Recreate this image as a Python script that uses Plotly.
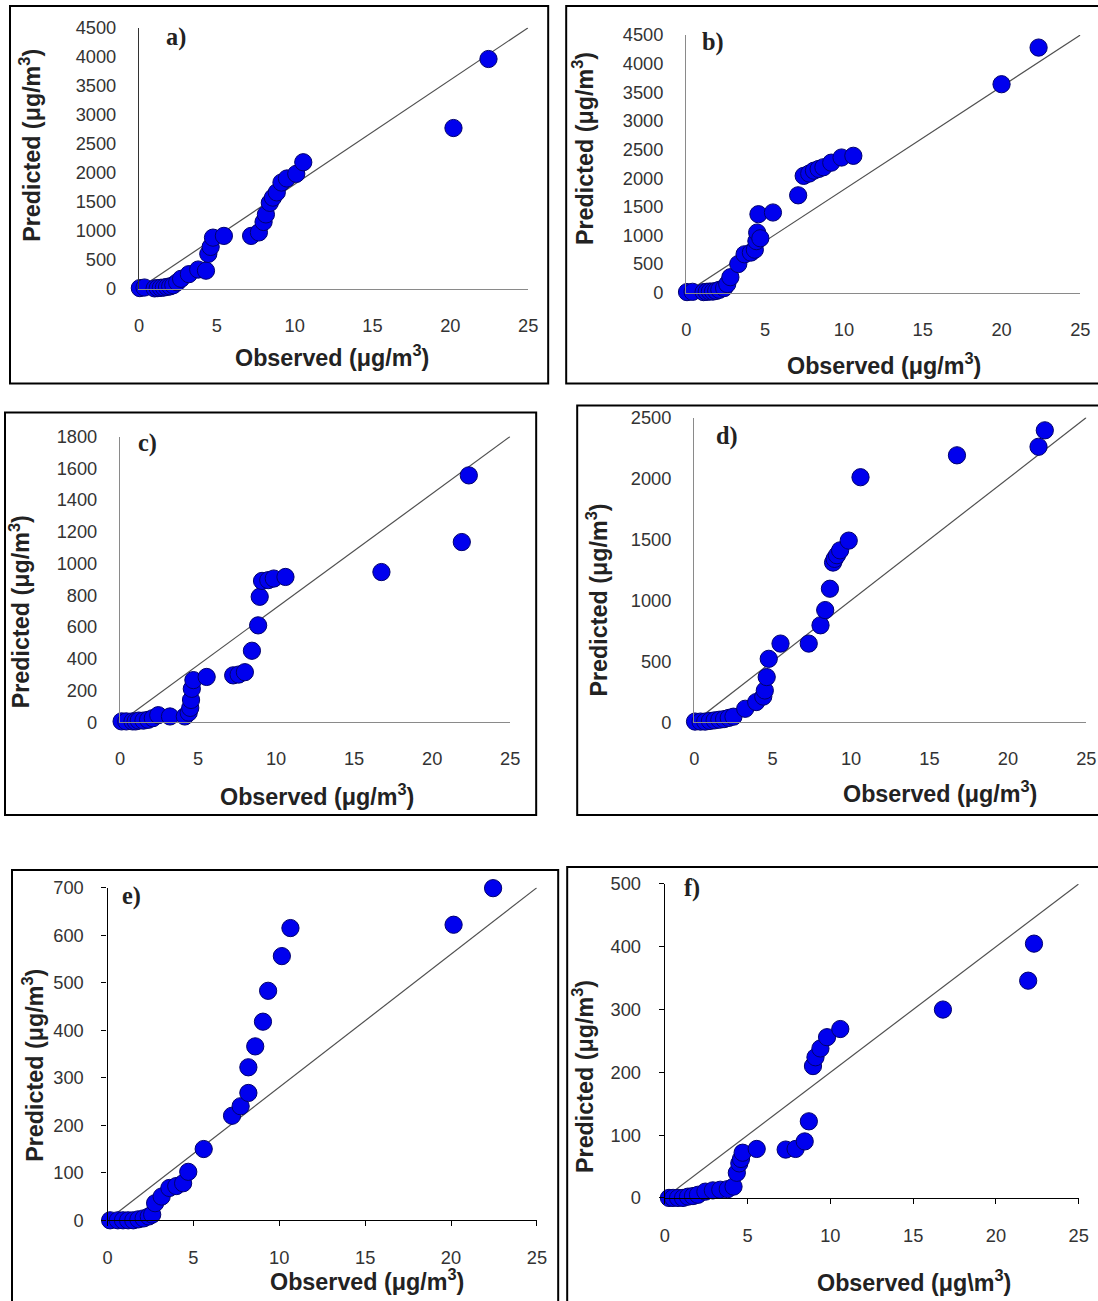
import plotly.graph_objects as go

W, H = 1098, 1301

# ---------------- data ----------------
ax = [0.05, 0.35, 1.0, 1.2, 1.4, 1.6, 1.8, 2.0, 2.2, 2.45, 2.7, 3.2, 3.8, 4.3, 4.45, 4.6, 4.75, 5.45, 7.2, 7.7, 8.0, 8.15, 8.4, 8.6, 8.85, 9.15, 9.5, 10.1, 10.55, 20.2, 22.45]
ay = [10, 20, 5, 10, 15, 20, 30, 40, 60, 110, 170, 250, 330, 310, 600, 720, 880, 910, 910, 970, 1150, 1280, 1480, 1570, 1660, 1830, 1900, 1980, 2180, 2770, 3960]

bx = [0.05, 0.4, 1.1, 1.3, 1.5, 1.7, 1.9, 2.1, 2.4, 2.6, 2.8, 3.3, 3.7, 4.1, 4.35, 4.45, 4.5, 4.58, 4.7, 5.5, 7.1, 7.45, 7.8, 8.1, 8.4, 8.7, 9.2, 9.85, 10.6, 20.0, 22.35]
by = [10, 15, 10, 15, 20, 20, 30, 50, 80, 150, 270, 500, 670, 700, 750, 900, 1050, 1370, 950, 1400, 1700, 2040, 2080, 2130, 2160, 2190, 2270, 2360, 2390, 3640, 4280]

cx = [0.1, 0.4, 0.8, 1.0, 1.2, 1.5, 1.8, 2.1, 2.45, 3.2, 4.15, 4.4, 4.5, 4.55, 4.6, 4.7, 5.55, 7.25, 7.6, 8.0, 8.45, 8.85, 8.95, 9.1, 9.5, 9.85, 10.6, 16.75, 21.9, 22.35]
cy = [5, 5, 5, 5, 10, 10, 15, 25, 44, 36, 36, 60, 90, 140, 210, 265, 285, 295, 300, 315, 450, 610, 790, 890, 895, 905, 915, 946, 1135, 1555]

dx = [0.05, 0.4, 0.7, 1.0, 1.3, 1.6, 1.9, 2.2, 2.5, 3.25, 3.95, 4.4, 4.5, 4.62, 4.75, 5.5, 7.3, 8.05, 8.35, 8.65, 8.85, 8.95, 9.1, 9.3, 9.85, 10.6, 16.75, 21.95, 22.35]
dy = [5, 5, 5, 10, 15, 20, 25, 35, 45, 110, 165, 210, 260, 370, 520, 645, 645, 795, 920, 1095, 1310, 1340, 1370, 1410, 1490, 2010, 2190, 2260, 2395]

ex = [0.15, 0.6, 0.9, 1.2, 1.5, 1.8, 2.1, 2.4, 2.6, 2.77, 3.15, 3.6, 4.0, 4.4, 4.7, 5.6, 7.25, 7.75, 8.2, 8.2, 8.6, 9.05, 9.35, 10.15, 10.65, 20.15, 22.45]
ey = [0, 0, 0, 0, 0, 2, 4, 8, 12, 36, 50, 68, 72, 78, 102, 150, 220, 240, 268, 322, 366, 418, 483, 556, 615, 622, 699]

fx = [0.25, 0.5, 0.8, 1.1, 1.4, 1.7, 2.0, 2.45, 2.9, 3.35, 3.8, 4.15, 4.35, 4.5, 4.6, 4.7, 5.55, 7.3, 7.9, 8.45, 8.7, 8.95, 9.1, 9.4, 9.8, 10.6, 16.8, 21.95, 22.3]
fy = [0, 0, 0, 0, 2, 3, 5, 10, 12, 13, 14, 18, 40, 55, 62, 72, 78, 77, 78, 90, 122, 210, 224, 238, 256, 269, 300, 346, 405]

x_ticks = [0, 5, 10, 15, 20, 25]
y_max = [4500, 4500, 1800, 2500, 700, 500]
y_step = [500, 500, 200, 500, 100, 100]
labels = ["a)", "b)", "c)", "d)", "e)", "f)"]
x_titles = ["Observed (μg/m<sup>3</sup>)"] * 5 + ["Observed (μg\\m<sup>3</sup>)"]
y_title = "Predicted (μg/m<sup>3</sup>)"

series = [(ax, ay), (bx, by), (cx, cy), (dx, dy), (ex, ey), (fx, fy)]

# ---------------- layout geometry (target picture pixels) ----------------
areas = [
    (139, 528, 26.7, 288),
    (686, 1080, 34, 292),
    (120, 510, 436, 722),
    (694, 1086, 417, 722),
    (107.5, 536.7, 887.7, 1220.7),
    (664.6, 1078.3, 884, 1198.3),
]
boxes = [
    (10, 5, 548, 383),
    (566, 5, 1099, 383),
    (5, 412, 536, 815),
    (577, 405, 1099, 815),
    (12, 870, 558, 1304),
    (567, 867, 1099, 1304),
]
label_pos = [(176, 36), (713, 41), (147, 443), (727, 435), (131, 896), (692, 888)]
ytitle_pos = [(30, 145), (583, 148), (20, 612), (597, 600), (33, 1066), (583, 1077)]
xtitle_pos = [(332, 355), (884, 363), (317, 795), (940, 792), (367, 1280), (914, 1281)]

# the photographed page is framed slightly larger than the figure:
# picture = off + k * figure  -> convert target picture pixels to paper fractions
KX, KY, OX, OY = 0.986, 0.985, 5.0, 10.0

def px(x):
    return (x - OX) / KX / W

def py(y):
    return 1 - (y - OY) / KY / H

def fs(s):
    return s / KX

fig = go.Figure()
layout = dict(
    width=W, height=H, autosize=False,
    margin=dict(l=0, r=0, t=0, b=0, pad=0),
    paper_bgcolor="white", plot_bgcolor="white",
    showlegend=False,
    font=dict(family="Liberation Sans, Arial, sans-serif", color="#333"),
)
shapes = []
annotations = []

for i, ((xs, ys), area) in enumerate(zip(series, areas)):
    n = i + 1
    xa = "x" if n == 1 else f"x{n}"
    ya = "y" if n == 1 else f"y{n}"
    ymax = y_max[i]
    fig.add_trace(go.Scatter(
        x=[0, 25], y=[0, ymax], mode="lines",
        line=dict(color="#505050", width=1.2),
        xaxis=xa, yaxis=ya, hoverinfo="skip", cliponaxis=False,
    ))
    fig.add_trace(go.Scatter(
        x=xs, y=ys, mode="markers",
        marker=dict(size=fs(17), color="#0000EE", line=dict(color="#00006e", width=1)),
        xaxis=xa, yaxis=ya, cliponaxis=False,
    ))
    x0, x1, yt, yb = area
    ticked = i >= 4
    axcol = "#000000" if ticked else "#8a8a8a"
    ycol = "#000000" if ticked else ("#333333" if i == 0 else "#8a8a8a")
    xkey = "xaxis" if n == 1 else f"xaxis{n}"
    ykey = "yaxis" if n == 1 else f"yaxis{n}"
    layout[xkey] = dict(
        domain=[px(x0), px(x1)], anchor=ya, range=[0, 25],
        tickmode="array", tickvals=x_ticks,
        showgrid=False, zeroline=False, showline=True,
        linecolor=axcol, linewidth=1.3,
        ticks="outside" if ticked else "", ticklen=5, tickcolor="#000",
        tickfont=dict(size=fs(18), color="#333"),
        ticklabelstandoff=20 if not ticked else 16,
        fixedrange=True,
    )
    layout[ykey] = dict(
        domain=[py(yb), py(yt)], anchor=xa, range=[0, ymax],
        tickmode="array", tickvals=list(range(0, ymax + 1, y_step[i])),
        showgrid=False, zeroline=False, showline=True,
        linecolor=ycol, linewidth=1.3,
        ticks="outside" if ticked else "", ticklen=5, tickcolor="#000",
        tickfont=dict(size=fs(18), color="#333"),
        ticklabelstandoff=18 if not ticked else 14,
        fixedrange=True,
    )
    bx0, by0, bx1, by1 = boxes[i]
    shapes.append(dict(type="rect", xref="paper", yref="paper",
                       x0=px(bx0), y0=py(by1), x1=px(bx1), y1=py(by0),
                       line=dict(color="black", width=2), layer="above"))
    lx, ly = label_pos[i]
    annotations.append(dict(text=f"<b>{labels[i]}</b>", xref="paper", yref="paper",
                            x=px(lx), y=py(ly), showarrow=False,
                            xanchor="center", yanchor="middle",
                            font=dict(family="Liberation Serif, Times New Roman, serif",
                                      size=fs(24), color="#222")))
    tx, ty = ytitle_pos[i]
    annotations.append(dict(text=f"<b>{y_title}</b>", xref="paper", yref="paper",
                            x=px(tx), y=py(ty), showarrow=False, textangle=-90,
                            xanchor="center", yanchor="middle",
                            font=dict(size=fs(23), color="#222")))
    tx, ty = xtitle_pos[i]
    annotations.append(dict(text=f"<b>{x_titles[i]}</b>", xref="paper", yref="paper",
                            x=px(tx), y=py(ty), showarrow=False,
                            xanchor="center", yanchor="middle",
                            font=dict(size=fs(23), color="#222")))

layout["shapes"] = shapes
layout["annotations"] = annotations
fig.update_layout(**layout)
fig.write_html(
    "out.html",
    config={"displayModeBar": False, "responsive": False},
    post_script=(
        "document.documentElement.style.margin='0';"
        "document.documentElement.style.padding='0';"
        "document.documentElement.style.overflow='hidden';"
        "document.body.style.margin='0';document.body.style.padding='0';"
        "document.body.style.overflow='hidden';window.scrollTo(0,0);"
    ),
)
